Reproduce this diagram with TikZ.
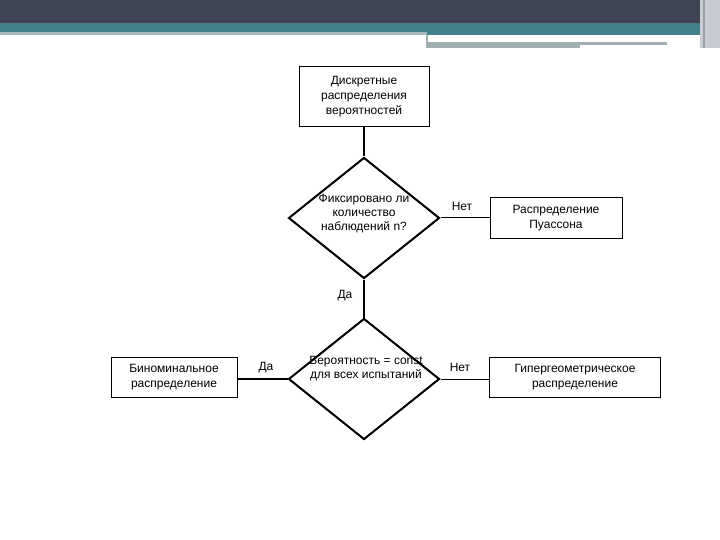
\documentclass[tikz,border=0pt]{standalone}
\usepackage{fontspec}
\setmainfont{Liberation Sans}
\usepackage{xcolor}
\usetikzlibrary{shapes.geometric,positioning}
\definecolor{HeadDark}{RGB}{62,68,83}
\definecolor{HeadTeal}{RGB}{67,128,137}
\definecolor{HeadGray}{RGB}{168,186,191}
\definecolor{HeadLine}{RGB}{160,176,178}
\definecolor{HeadEdge}{RGB}{200,204,212}
\tikzset{
  rbox/.style={draw=black,line width=1pt,inner sep=0pt,align=center,font=\fontsize{12}{15}\selectfont},
  qdia/.style={draw=black,diamond,line width=2pt,inner sep=0pt,minimum width=151pt,minimum height=121pt},
  qtxt/.style={align=center,inner sep=0pt,font=\fontsize{12}{14}\selectfont},
  lbl/.style={inner sep=0pt,font=\fontsize{12}{14}\selectfont},
  tline/.style={line width=2pt},
  nline/.style={line width=1pt},
}
\begin{document}
\begin{tikzpicture}[x=1pt,y=-1pt]
    \useasboundingbox (0,0) rectangle (720,540);
    %% Header
    \fill[HeadDark] (0,0) rectangle (720,23);
    \fill[HeadTeal] (0,23) rectangle (700,32);
    \fill[HeadGray] (0,32) rectangle (427,35);
    \fill[HeadTeal] (427,32) rectangle (700,35);
    \fill[HeadLine] (427,42) rectangle (667,45);
    \fill[HeadLine] (427,45) rectangle (580,48);
    \fill[HeadLine] (426,35) rectangle (428,48);
    \fill[HeadEdge] (700,0) rectangle (720,48);
    \fill[HeadDark!50] (703,0) rectangle (705,48);
    %% Boxes
    \node[rbox,minimum width=130pt,minimum height=60pt] (distr)  at (364,97)  {Дискретные\\распределения\\вероятностей};
    \node[rbox,minimum width=132pt,minimum height=40pt] (poisson) at (556,218) {Распределение\\Пуассона};
    \node[rbox,minimum width=126pt,minimum height=40pt] (binom)  at (174,377) {Биноминальное\\распределение};
    \node[rbox,minimum width=171pt,minimum height=40pt] (hyper)  at (575,377) {Гипергеометрическое\\распределение};
    %% Decisions
    \node[qdia] (fixn)  at (364,218) {};
    \node[qdia] (constp) at (364,379) {};
    \node[qtxt] (fixntxt)  at (364,214) {Фиксировано ли\\количество\\наблюдений n?};
    \node[qtxt] (constptxt) at (366,369) {Вероятность = const\\для всех испытаний};
    %% Connectors
    \draw[tline] (distr.south) -- (fixn.north);
    \draw[tline] (fixn.south) -- (constp.north);
    \draw[nline] (fixn.east) -- (poisson.west);
    \draw[tline] (constp.west) -- (binom.east |- constp.west);
    \draw[nline] (constp.east) -- (hyper.west |- constp.east);
    %% Labels
    \node[lbl] (no1)  at (462,206) {Нет};
    \node[lbl] (yes1) at (345,296) {Да};
    \node[lbl] (yes2) at (266,368) {Да};
    \node[lbl] (no2)  at (460,367) {Нет};
\end{tikzpicture}
\end{document}
